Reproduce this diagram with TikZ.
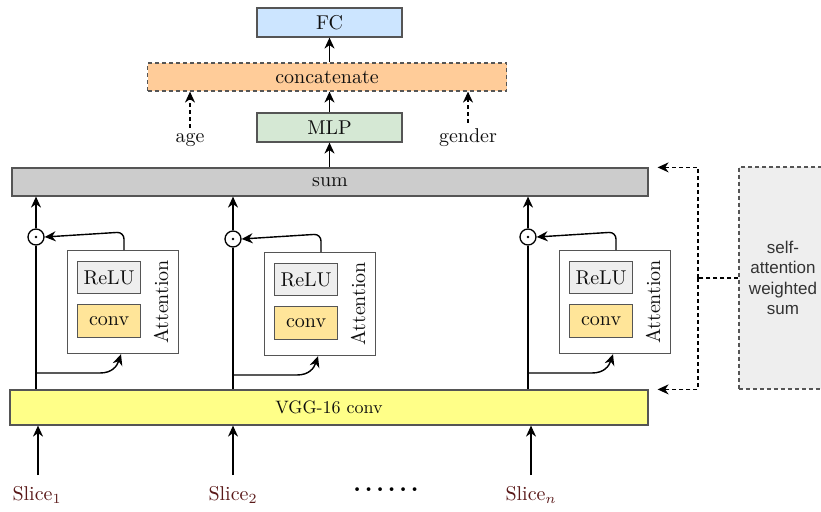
\documentclass[tikz,border=0pt]{standalone}
\usepackage{fontspec}
\newfontfamily\labelsans{Liberation Sans}
\usetikzlibrary{arrows.meta,calc}

\definecolor{edgegray}{RGB}{85,85,85}
\definecolor{fcblue}{RGB}{204,229,255}
\definecolor{catorange}{RGB}{255,204,153}
\definecolor{mlpgreen}{RGB}{213,232,212}
\definecolor{sumgray}{RGB}{204,204,204}
\definecolor{relugray}{RGB}{238,238,238}
\definecolor{convyellow}{RGB}{255,229,153}
\definecolor{vggyellow}{RGB}{255,255,136}
\definecolor{noteshade}{RGB}{238,238,238}
\definecolor{slicered}{RGB}{90,25,25}
\definecolor{inktext}{RGB}{15,15,15}

% labels are set at the 10pt design size and enlarged
\newcommand{\enl}[2][2]{\scalebox{#1}{#2}}

\tikzset{
  blk/.style={draw=edgegray, line width=1.2pt, inner sep=0pt, text=inktext,
    font=\fontsize{10}{12}\selectfont},
  arr/.style={line width=1.4pt, -{Stealth[length=11pt,width=10pt,inset=3.5pt]}},
  plain/.style={line width=1.4pt},
  dsh/.style={dash pattern=on 4pt off 3pt},
  odot/.style={circle, draw=black, line width=1.3pt, fill=white,
    minimum size=16pt, inner sep=0pt},
  lbl/.style={inner sep=1pt, text=inktext, font=\fontsize{10}{12}\selectfont},
  slicelbl/.style={inner sep=0pt, text=slicered, font=\fontsize{10}{12}\selectfont},
}

\begin{document}
\begin{tikzpicture}[x=1pt,y=-1pt]
\useasboundingbox (0,0) rectangle (821,511);

% ---- head of the network ----
\node[blk, fill=fcblue, minimum width=145, minimum height=29] (fc) at (329.5,22.5) {\enl{FC}};
\node[blk, fill=catorange, dsh, minimum width=359, minimum height=28] (concat) at (327,77) {\enl{concatenate}};
\node[blk, fill=mlpgreen, minimum width=145, minimum height=29] (mlp) at (329.5,127.5) {\enl{MLP}};
\node[lbl, anchor=base] (age) at (190,142) {\enl{age}};
\node[lbl, anchor=base] (gender) at (468,142) {\enl{gender}};

\draw[arr] (mlp.north) -- (mlp.north |- concat.south);
\draw[arr] (concat.north -| fc.south) -- (fc.south);
\draw[arr, dsh] ($(age.north)+(0,-4)$) -- (age.north |- concat.south);
\draw[arr, dsh] ($(gender.north)+(0,-4)$) -- (gender.north |- concat.south);

% ---- aggregation bar and backbone ----
\node[blk, fill=sumgray, minimum width=636, minimum height=28] (sum) at (330,182) {\enl{sum}};
\node[blk, fill=vggyellow, minimum width=638, minimum height=35] (vgg) at (329,407.5) {\enl[1.8]{VGG-16 conv}};

\draw[arr] (sum.north -| mlp.south) -- (mlp.south);

% ---- one attention branch per slice ----
\foreach \cx/\dy/\i in {36/0/1, 233/2/2, 528/0/3}{
  \node[blk, fill=white, minimum width=111, minimum height=103, anchor=north west]
    (att\i) at ({\cx+31},{250+\dy}) {};
  \node[blk, fill=relugray, minimum width=63, minimum height=32, anchor=north west]
    (relu\i) at ({\cx+41},{261+\dy}) {\enl{ReLU}};
  \node[blk, fill=convyellow, minimum width=63, minimum height=33, anchor=north west]
    (conv\i) at ({\cx+41},{304+\dy}) {\enl{conv}};
  \node[lbl, rotate=90, inner sep=0pt] (attname\i) at ({\cx+125},{302+\dy}) {\enl{Attention}};
  \node[odot] (dot\i) at (\cx,{237+\dy}) {};
  \fill (dot\i.center) circle (1.4pt);
  \coordinate (tap\i) at (\cx,{373+\dy});

  \draw[plain] (dot\i.south) -- (dot\i.south |- vgg.north);
  \draw[arr] (dot\i.north) -- (dot\i.north |- sum.south);
  \draw[arr, rounded corners=7pt] ($(att\i.north west)+(57,0)$) -- ++(0,-18) -- (dot\i.east);
  \draw[arr] (tap\i) -- ++(64,0) .. controls ++(12,0) and ($(att\i.south west)+(50,12)$) .. ($(att\i.south west)+(54,0)$);
}

% ---- input slices ----
\node[slicelbl] (slice1) at (37,495) {\enl{Slice$_1$}};
\node[slicelbl] (slice2) at (233,495) {\enl{Slice$_2$}};
\node[slicelbl] (slice3) at (531,495) {\enl{Slice$_n$}};
\node[inner sep=0pt, font=\fontsize{10}{12}\selectfont\bfseries] (gap) at (386,490)
  {\enl[2.4]{.\kern1.6pt.\kern1.6pt.\kern1.6pt.\kern1.6pt.\kern1.6pt.}};

\foreach \bx/\i in {38/1, 233/2, 531/3}{
  \coordinate (in\i) at (\bx,475);
  \draw[arr, line width=1.2pt] (in\i) -- (in\i |- vgg.south);
}

% ---- note on the weighted sum ----
\node[draw=edgegray, line width=1.2pt, dsh, fill=noteshade, minimum width=88, minimum height=222,
  inner sep=0pt, align=center, text=black!80, font=\labelsans\fontsize{17}{20.5}\selectfont]
  (note) at (783,278) {self-\\attention\\weighted\\sum};
\coordinate (bend) at (698,278);
\draw[plain, line width=1.2pt, dsh] (note.west) -- (bend);
\draw[arr, line width=1.2pt, dsh] (bend) |- ($(sum.north east)+(9,0)$);
\draw[arr, line width=1.2pt, dsh] (bend) |- ($(vgg.north east)+(9,0)$);
\end{tikzpicture}
\end{document}
